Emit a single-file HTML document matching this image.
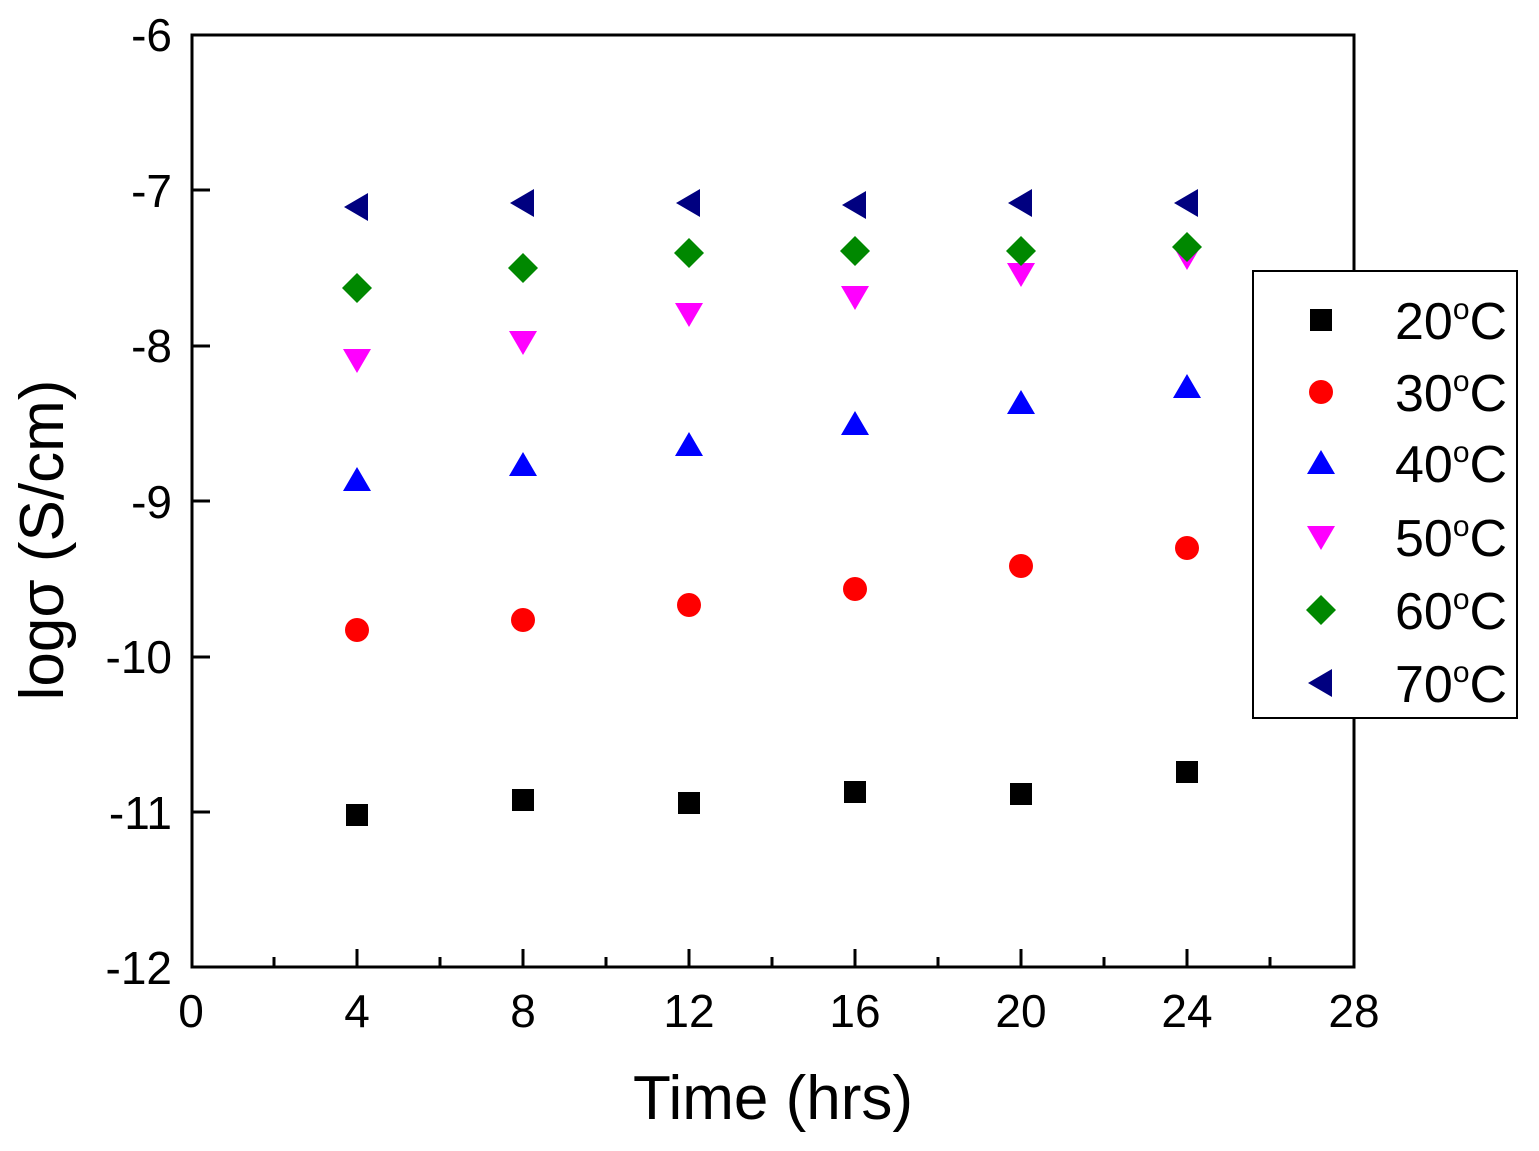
<!DOCTYPE html>
<html><head><style>body{margin:0;background:#fff}</style></head><body>
<svg width="1539" height="1146" xmlns="http://www.w3.org/2000/svg" font-family="Liberation Sans, sans-serif">
<defs>
<rect id="sq" x="-11" y="-11" width="22" height="22" fill="#000"/>
<circle id="ci" r="12" fill="#f00"/>
<polygon id="tu" points="0,-13 14,11 -14,11" fill="#00f"/>
<polygon id="td" points="0,13 14,-11 -14,-11" fill="#f0f"/>
<polygon id="di" points="0,-15 15,0 0,15 -15,0" fill="#080"/>
<polygon id="tl" points="-13,0 11,-14 11,14" fill="#000080"/>
</defs>
<rect x="192" y="35" width="1162" height="932" fill="none" stroke="#000" stroke-width="3"/>
<g stroke="#000" stroke-width="3">
<line x1="357" y1="967" x2="357" y2="949"/><line x1="523" y1="967" x2="523" y2="949"/><line x1="689" y1="967" x2="689" y2="949"/><line x1="855" y1="967" x2="855" y2="949"/><line x1="1021" y1="967" x2="1021" y2="949"/><line x1="1187" y1="967" x2="1187" y2="949"/>
<line x1="274" y1="967" x2="274" y2="957"/><line x1="440" y1="967" x2="440" y2="957"/><line x1="606" y1="967" x2="606" y2="957"/><line x1="772" y1="967" x2="772" y2="957"/><line x1="938" y1="967" x2="938" y2="957"/><line x1="1104" y1="967" x2="1104" y2="957"/><line x1="1270" y1="967" x2="1270" y2="957"/>
<line x1="192" y1="190" x2="210" y2="190"/><line x1="192" y1="346" x2="210" y2="346"/><line x1="192" y1="501" x2="210" y2="501"/><line x1="192" y1="657" x2="210" y2="657"/><line x1="192" y1="812" x2="210" y2="812"/>
</g>
<g font-size="46" text-anchor="middle">
<text x="191" y="1027">0</text><text x="357" y="1027">4</text><text x="523" y="1027">8</text><text x="689" y="1027">12</text><text x="855" y="1027">16</text><text x="1021" y="1027">20</text><text x="1187" y="1027">24</text><text x="1354" y="1027">28</text>
</g>
<g font-size="46" text-anchor="end">
<text x="172" y="51">-6</text><text x="172" y="207">-7</text><text x="172" y="362">-8</text><text x="172" y="518">-9</text><text x="172" y="673">-10</text><text x="172" y="829">-11</text><text x="172" y="984">-12</text>
</g>
<text x="773" y="1119" font-size="62" text-anchor="middle">Time (hrs)</text>
<text transform="translate(63,540) rotate(-90)" font-size="62" text-anchor="middle">logσ (S/cm)</text>
<g>
<use href="#sq" x="357" y="815"/><use href="#sq" x="523" y="800"/><use href="#sq" x="689" y="803"/><use href="#sq" x="855" y="792"/><use href="#sq" x="1021" y="794"/><use href="#sq" x="1187" y="772"/>
<use href="#ci" x="357" y="630"/><use href="#ci" x="523" y="620"/><use href="#ci" x="689" y="605"/><use href="#ci" x="855" y="589"/><use href="#ci" x="1021" y="566"/><use href="#ci" x="1187" y="548"/>
<use href="#tu" x="357" y="480"/><use href="#tu" x="523" y="465"/><use href="#tu" x="689" y="445"/><use href="#tu" x="855" y="424"/><use href="#tu" x="1021" y="403"/><use href="#tu" x="1187" y="387"/>
<use href="#td" x="357" y="360"/><use href="#td" x="523" y="342"/><use href="#td" x="689" y="314"/><use href="#td" x="855" y="297"/><use href="#td" x="1021" y="274"/><use href="#td" x="1187" y="257"/>
<use href="#di" x="357" y="288"/><use href="#di" x="523" y="268"/><use href="#di" x="689" y="253"/><use href="#di" x="855" y="251"/><use href="#di" x="1021" y="251"/><use href="#di" x="1187" y="247"/>
<use href="#tl" x="357" y="207"/><use href="#tl" x="523" y="203"/><use href="#tl" x="689" y="203"/><use href="#tl" x="855" y="205"/><use href="#tl" x="1021" y="203"/><use href="#tl" x="1187" y="203"/>
</g>
<rect x="1253" y="271" width="264" height="447" fill="#fff" stroke="#000" stroke-width="2"/>
<use href="#sq" x="1321" y="320"/><use href="#ci" x="1321" y="392"/><use href="#tu" x="1321" y="463"/><use href="#td" x="1321" y="537"/><use href="#di" x="1321" y="610"/><use href="#tl" x="1321" y="683"/>
<g font-size="52">
<text x="1395" y="339">20<tspan font-size="30" dy="-20">o</tspan><tspan dy="20">C</tspan></text>
<text x="1395" y="411">30<tspan font-size="30" dy="-20">o</tspan><tspan dy="20">C</tspan></text>
<text x="1395" y="482">40<tspan font-size="30" dy="-20">o</tspan><tspan dy="20">C</tspan></text>
<text x="1395" y="556">50<tspan font-size="30" dy="-20">o</tspan><tspan dy="20">C</tspan></text>
<text x="1395" y="629">60<tspan font-size="30" dy="-20">o</tspan><tspan dy="20">C</tspan></text>
<text x="1395" y="702">70<tspan font-size="30" dy="-20">o</tspan><tspan dy="20">C</tspan></text>
</g>
</svg>
</body></html>
